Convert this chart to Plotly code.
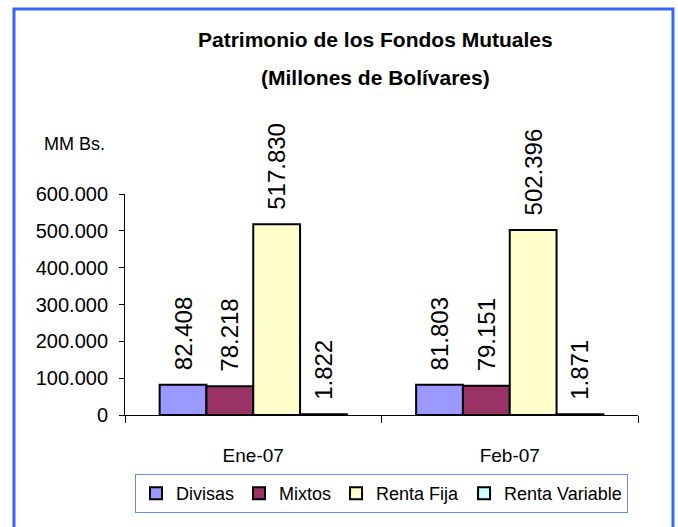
import plotly.graph_objects as go

categories = ["Ene-07", "Feb-07"]
series_names = ["Divisas", "Mixtos", "Renta Fija", "Renta Variable"]
divisas = [82408, 81803]
mixtos = [78218, 79151]
renta_fija = [517830, 502396]
renta_variable = [1822, 1871]
y_ticks = [0, 100000, 200000, 300000, 400000, 500000, 600000]

series_values = [divisas, mixtos, renta_fija, renta_variable]
colors = ["#9999FF", "#993366", "#FFFFCC", "#CCFFFF"]

FONT = "Liberation Sans, Arial, sans-serif"

fig = go.Figure()
for name, vals, col in zip(series_names, series_values, colors):
    fig.add_trace(go.Bar(
        name=name, x=categories, y=vals,
        marker=dict(color=col, line=dict(color="black", width=2)),
        texttemplate="\u00a0\u2009%{y:,.0f}",
        textposition="outside", textangle=-90,
        textfont=dict(family=FONT, size=24, color="black"),
        cliponaxis=False,
        constraintext="none",
    ))

fig.update_layout(
    width=678, height=527,
    margin=dict(l=125, r=40, t=194, b=112, autoexpand=False),
    barmode="group", bargap=0.27, bargroupgap=0,
    separators=",.",
    paper_bgcolor="white", plot_bgcolor="white",
    font=dict(family=FONT, size=20, color="black"),
    showlegend=True,
    legend=dict(
        orientation="h", xref="container", x=381.5 / 678, xanchor="center",
        yref="paper", y=-0.267, yanchor="top",
        bordercolor="#6688FF", borderwidth=1, bgcolor="white",
        font=dict(family=FONT, size=18, color="black"),
        itemwidth=30, tracegroupgap=0,
    ),
    xaxis=dict(
        showline=True, linecolor="black", linewidth=1,
        ticks="outside", ticklen=7, tickcolor="black", tickson="boundaries",
        showgrid=False, tickfont=dict(family=FONT, size=19),
        ticklabelstandoff=23,
    ),
    yaxis=dict(
        range=[0, 600000], tickvals=y_ticks, tickformat=",.0f",
        showline=True, linecolor="black", linewidth=1,
        ticks="outside", ticklen=5, tickcolor="black",
        showgrid=False, zeroline=False,
        tickfont=dict(family=FONT, size=20),
        ticklabelstandoff=7,
    ),
    shapes=[dict(
        type="rect", xref="paper", yref="paper",
        x0=-0.2164, x1=1.0682, y0=-0.53, y1=1.837,
        line=dict(color="#3366FF", width=3), layer="below",
    )],
    annotations=[
        dict(text="<b>Patrimonio de los Fondos Mutuales</b>", xref="paper", yref="paper",
             x=0.489, y=1.697, showarrow=False, xanchor="center", yanchor="middle",
             font=dict(family=FONT, size=21, color="black")),
        dict(text="<b>(Millones de Bolívares)</b>", xref="paper", yref="paper",
             x=0.489, y=1.525, showarrow=False, xanchor="center", yanchor="middle",
             font=dict(family=FONT, size=21, color="black")),
        dict(text="MM Bs.", xref="paper", yref="paper",
             x=(42 - 125) / 513, y=(415 - 144) / 221, showarrow=False,
             xanchor="left", yanchor="middle",
             font=dict(family=FONT, size=18, color="black")),
    ],
)

fig.write_html(
    "out.html",
    config={"displayModeBar": False},
    post_script="document.body.style.margin='0px';document.body.style.padding='0px';",
)
